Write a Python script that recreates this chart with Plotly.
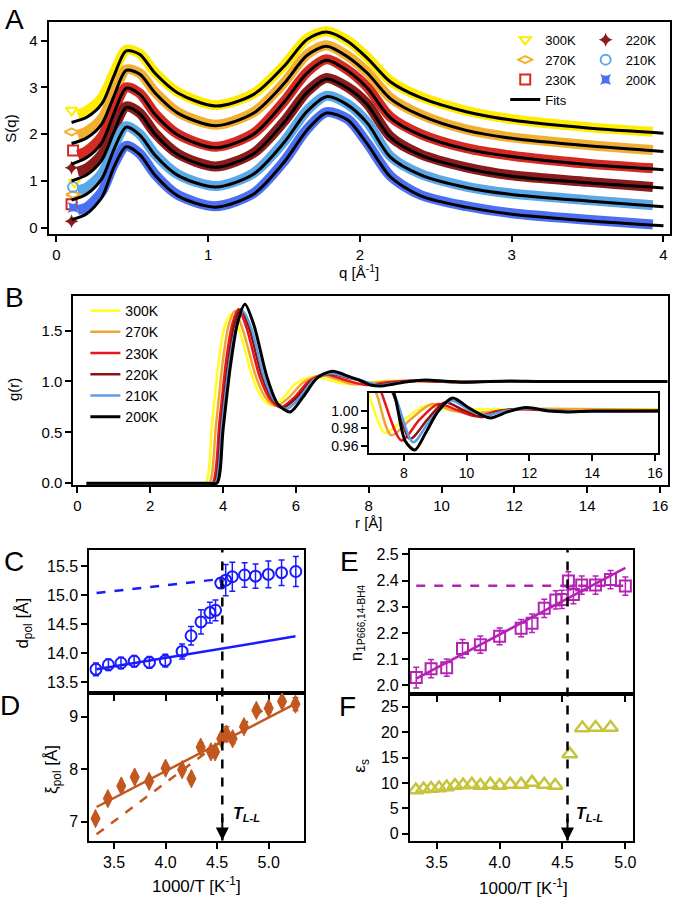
import plotly.graph_objects as go

W, H = 677, 907
FONT = "Liberation Sans, Arial, Helvetica, sans-serif"

# ---------------- Panel A : S(q) ----------------
q_fit = [0.1, 0.2, 0.3, 0.38, 0.46, 0.55, 0.65, 0.8, 1.05, 1.3, 1.5, 1.65, 1.78, 1.92, 2.05, 2.2, 2.4, 2.7, 3.0, 3.5, 4.0]
q_dat = [0.14, 0.2, 0.3, 0.38, 0.46, 0.55, 0.65, 0.8, 1.05, 1.3, 1.5, 1.65, 1.78, 1.92, 2.05, 2.2, 2.4, 2.7, 3.0, 3.5, 3.93]

S_fit_300 = [2.25, 2.36, 2.65, 3.25, 3.78, 3.70, 3.30, 2.88, 2.60, 2.85, 3.45, 4.02, 4.18, 3.98, 3.62, 3.12, 2.78, 2.48, 2.30, 2.13, 2.02]
S_fit_270 = [1.80, 1.92, 2.22, 2.82, 3.36, 3.28, 2.88, 2.45, 2.18, 2.45, 3.08, 3.68, 3.88, 3.65, 3.30, 2.76, 2.40, 2.08, 1.91, 1.75, 1.63]
S_fit_230 = [1.36, 1.50, 1.82, 2.45, 2.98, 2.85, 2.42, 1.98, 1.71, 2.00, 2.68, 3.30, 3.58, 3.35, 2.98, 2.35, 1.98, 1.68, 1.52, 1.35, 1.24]
S_fit_220 = [1.00, 1.13, 1.45, 2.05, 2.57, 2.43, 2.00, 1.56, 1.29, 1.58, 2.25, 2.88, 3.18, 2.98, 2.62, 1.93, 1.55, 1.27, 1.10, 0.96, 0.85]
S_fit_210 = [0.59, 0.72, 1.05, 1.68, 2.15, 1.98, 1.55, 1.12, 0.87, 1.15, 1.82, 2.48, 2.80, 2.62, 2.23, 1.51, 1.13, 0.86, 0.71, 0.57, 0.45]
S_fit_200 = [0.17, 0.30, 0.65, 1.30, 1.73, 1.56, 1.12, 0.68, 0.44, 0.72, 1.40, 2.08, 2.45, 2.30, 1.78, 1.09, 0.68, 0.44, 0.29, 0.15, 0.04]

S_dat_300 = [2.42, 2.50, 2.78, 3.32, 3.80, 3.72, 3.32, 2.90, 2.62, 2.87, 3.47, 4.04, 4.20, 4.00, 3.64, 3.14, 2.80, 2.50, 2.32, 2.15, 2.05]
S_dat_270 = [1.98, 2.06, 2.34, 2.88, 3.38, 3.30, 2.90, 2.47, 2.20, 2.47, 3.10, 3.70, 3.90, 3.67, 3.32, 2.78, 2.42, 2.10, 1.93, 1.77, 1.66]
S_dat_230 = [1.56, 1.64, 1.95, 2.52, 3.00, 2.87, 2.44, 2.00, 1.73, 2.02, 2.70, 3.32, 3.60, 3.37, 3.00, 2.37, 2.00, 1.70, 1.54, 1.37, 1.27]
S_dat_220 = [1.20, 1.27, 1.57, 2.12, 2.59, 2.45, 2.02, 1.58, 1.31, 1.60, 2.27, 2.90, 3.20, 3.00, 2.64, 1.95, 1.57, 1.29, 1.12, 0.98, 0.87]
S_dat_210 = [0.80, 0.86, 1.16, 1.74, 2.17, 2.00, 1.57, 1.14, 0.89, 1.17, 1.84, 2.50, 2.82, 2.64, 2.25, 1.53, 1.15, 0.88, 0.73, 0.59, 0.48]
S_dat_200 = [0.38, 0.44, 0.77, 1.36, 1.75, 1.58, 1.14, 0.70, 0.46, 0.74, 1.42, 2.10, 2.47, 2.32, 1.80, 1.11, 0.70, 0.46, 0.31, 0.17, 0.07]

q_low = {"300K": [0.10, 0.12], "270K": [0.10, 0.11], "230K": [0.11, 0.10],
         "220K": [0.10, 0.10], "210K": [0.11], "200K": [0.11]}
S_low = {"300K": [2.51, 0.97], "270K": [2.05, 0.71], "230K": [1.65, 0.50],
         "220K": [1.28, 0.14], "210K": [0.87], "200K": [0.43]}

labels_A = ["300K", "270K", "230K", "220K", "210K", "200K"]
colors_A = ["#ffec00", "#f2b030", "#d42a22", "#8c1c1c", "#5aa8e8", "#4c70f2"]
symbols_A = ["triangle-down-open", "diamond-wide-open", "square-open", "star-diamond", "circle-open", "star-square"]
S_fit_all = [S_fit_300, S_fit_270, S_fit_230, S_fit_220, S_fit_210, S_fit_200]
S_dat_all = [S_dat_300, S_dat_270, S_dat_230, S_dat_220, S_dat_210, S_dat_200]

# ---------------- Panel B : g(r) ----------------
r_300 = [0.25, 3.3, 3.52, 3.7, 3.9, 4.05, 4.22, 4.45, 4.8, 5.05, 5.3, 5.6, 6.0, 6.5, 6.95, 7.4, 8.0, 8.7, 9.5, 10.5, 16.2]
g_300 = [0.0, 0.0, 0.0, 0.6, 1.25, 1.55, 1.66, 1.5, 1.05, 0.85, 0.77, 0.82, 0.98, 1.05, 1.012, 0.975, 0.99, 1.006, 1.001, 1.002, 1.002]
r_270 = [0.25, 3.4, 3.62, 3.8, 4.0, 4.15, 4.32, 4.55, 4.9, 5.15, 5.45, 5.8, 6.2, 6.7, 7.15, 7.6, 8.2, 8.9, 9.6, 10.4, 11.5, 16.2]
g_270 = [0.0, 0.0, 0.0, 0.55, 1.22, 1.55, 1.69, 1.5, 1.05, 0.85, 0.76, 0.84, 0.99, 1.06, 1.018, 0.972, 0.99, 1.008, 1.0, 0.998, 1.002, 1.001]
r_230 = [0.25, 3.5, 3.71, 3.9, 4.1, 4.25, 4.42, 4.65, 5.0, 5.28, 5.58, 5.95, 6.35, 6.8, 7.3, 7.93, 8.5, 9.1, 9.7, 10.3, 11.0, 11.7, 13.0, 16.2]
g_230 = [0.0, 0.0, 0.0, 0.6, 1.25, 1.56, 1.71, 1.52, 1.05, 0.83, 0.745, 0.84, 1.0, 1.07, 1.02, 0.966, 0.99, 1.008, 1.001, 0.994, 1.0, 1.002, 1.0, 1.0]
r_220 = [0.25, 3.55, 3.76, 3.95, 4.15, 4.3, 4.48, 4.72, 5.07, 5.35, 5.65, 6.02, 6.42, 6.88, 7.4, 7.75, 8.2, 8.75, 9.3, 9.9, 10.45, 11.1, 11.8, 13.0, 16.2]
g_220 = [0.0, 0.0, 0.0, 0.6, 1.22, 1.55, 1.71, 1.52, 1.05, 0.83, 0.745, 0.84, 1.0, 1.075, 1.04, 1.012, 0.968, 0.99, 1.01, 1.001, 0.993, 1.0, 1.003, 1.0, 1.0]
r_210 = [0.25, 3.6, 3.79, 3.98, 4.18, 4.35, 4.54, 4.78, 5.12, 5.42, 5.75, 6.1, 6.5, 6.95, 7.45, 7.78, 8.3, 8.85, 9.5, 10.05, 10.6, 11.2, 11.9, 13.0, 16.2]
g_210 = [0.0, 0.0, 0.0, 0.6, 1.2, 1.52, 1.69, 1.52, 1.05, 0.81, 0.73, 0.84, 1.02, 1.08, 1.04, 1.012, 0.964, 0.99, 1.012, 1.002, 0.995, 1.0, 1.003, 1.0, 1.0]
r_200 = [0.25, 3.6, 3.83, 4.0, 4.2, 4.4, 4.6, 4.85, 5.2, 5.5, 5.84, 6.2, 6.6, 7.0, 7.45, 7.75, 8.05, 8.35, 8.7, 9.1, 9.55, 10.1, 10.75, 11.3, 11.9, 12.6, 13.2, 14.0, 16.2]
g_200 = [0.0, 0.0, 0.0, 0.53, 1.15, 1.58, 1.76, 1.55, 1.05, 0.78, 0.70, 0.85, 1.04, 1.10, 1.05, 1.012, 0.965, 0.955, 0.975, 1.0, 1.015, 1.003, 0.992, 0.999, 1.004, 1.0, 0.999, 1.0, 1.0]

labels_B = ["300K", "270K", "230K", "220K", "210K", "200K"]
colors_B = ["#ffff22", "#f0a431", "#e8161a", "#8e1212", "#5c9ee6", "#000000"]
r_all = [r_300, r_270, r_230, r_220, r_210, r_200]
g_all = [g_300, g_270, g_230, g_220, g_210, g_200]

# ---------------- Panel C : d_pol ----------------
x_C = [3.324, 3.445, 3.567, 3.695, 3.843, 3.997, 4.160, 4.247, 4.343, 4.430, 4.484, 4.535, 4.583, 4.647, 4.766, 4.872, 4.997, 5.125, 5.263]
d_pol = [13.72, 13.80, 13.83, 13.86, 13.84, 13.87, 14.03, 14.30, 14.54, 14.70, 14.74, 15.21, 15.26, 15.32, 15.35, 15.33, 15.36, 15.39, 15.41]
d_err = [0.11, 0.10, 0.10, 0.10, 0.10, 0.11, 0.13, 0.16, 0.21, 0.18, 0.18, 0.08, 0.27, 0.25, 0.21, 0.21, 0.23, 0.22, 0.26]
C_fit_x = [3.33, 5.26]
C_fit_y = [13.72, 14.29]
C_dash_x = [3.33, 4.53]
C_dash_y = [15.04, 15.28]

# ---------------- Panel D : xi_pol ----------------
x_D = [3.32, 3.44, 3.57, 3.70, 3.84, 4.00, 4.16, 4.25, 4.34, 4.44, 4.48, 4.54, 4.59, 4.65, 4.76, 4.88, 5.00, 5.13, 5.26]
xi_pol = [7.06, 7.44, 7.68, 7.85, 7.77, 8.02, 7.99, 7.82, 8.42, 8.33, 8.33, 8.58, 8.67, 8.58, 8.81, 9.12, 9.16, 9.29, 9.24]
xi_err = [0.05, 0.05, 0.05, 0.05, 0.05, 0.05, 0.05, 0.05, 0.08, 0.06, 0.06, 0.08, 0.14, 0.08, 0.08, 0.07, 0.08, 0.05, 0.12]
D_fit_x = [3.33, 5.26]
D_fit_y = [7.28, 9.25]
D_dash_x = [3.33, 5.0]
D_dash_y = [6.76, 9.21]

# ---------------- Panel E : n1 ----------------
x_E = [3.337, 3.455, 3.579, 3.705, 3.847, 4.000, 4.171, 4.258, 4.355, 4.447, 4.495, 4.547, 4.587, 4.653, 4.763, 4.882, 5.000]
n1 = [2.029, 2.063, 2.067, 2.140, 2.155, 2.187, 2.218, 2.237, 2.294, 2.326, 2.328, 2.399, 2.347, 2.383, 2.383, 2.404, 2.379]
n1_err = [0.04, 0.035, 0.033, 0.035, 0.033, 0.032, 0.033, 0.035, 0.035, 0.035, 0.035, 0.035, 0.035, 0.035, 0.035, 0.035, 0.035]
E_fit_x = [3.337, 5.0]
E_fit_y = [2.025, 2.449]
E_dash_x = [3.337, 5.0]
E_dash_y = [2.38, 2.38]

# ---------------- Panel F : eps_s ----------------
x_F = [3.334, 3.395, 3.455, 3.518, 3.579, 3.645, 3.710, 3.779, 3.847, 3.926, 4.000, 4.084, 4.171, 4.258, 4.355, 4.442, 4.558, 4.658, 4.763, 4.882]
eps_s = [8.6, 8.8, 8.9, 9.0, 9.2, 9.5, 9.6, 9.7, 9.5, 9.7, 9.5, 9.7, 9.7, 10.1, 9.7, 9.5, 15.7, 20.8, 20.9, 20.9]

T_LL = [4.55, 4.54]

# ---------------- colours ----------------
C_BLUE = "#1a1aff"
C_BROWN = "#c2581f"
C_MAG = "#b423b4"
C_OLIVE = "#c6c43a"


def dx(a, b):
    return [a / W, b / W]


def dy(top, bottom):
    return [1 - bottom / H, 1 - top / H]


fig = go.Figure()

# Panel A traces
for i, lab in enumerate(labels_A):
    fig.add_trace(go.Scatter(x=q_dat, y=S_dat_all[i], mode="lines",
                             line=dict(color=colors_A[i], width=10, shape="spline", smoothing=0.8),
                             showlegend=False, xaxis="x", yaxis="y", hoverinfo="skip"))
for i, lab in enumerate(labels_A):
    filled = "open" not in symbols_A[i]
    fig.add_trace(go.Scatter(x=q_low[lab], y=S_low[lab], mode="markers", name=lab,
                             marker=dict(symbol=symbols_A[i], size=10, color=colors_A[i],
                                         line=dict(color=colors_A[i], width=2 if not filled else 0)),
                             legend="legend" if i < 3 else "legend2",
                             xaxis="x", yaxis="y"))
for i, lab in enumerate(labels_A):
    fig.add_trace(go.Scatter(x=q_fit, y=S_fit_all[i], mode="lines", name="Fits",
                             line=dict(color="black", width=3, shape="spline", smoothing=0.8),
                             showlegend=(i == 0), legend="legend", legendrank=2000,
                             xaxis="x", yaxis="y"))

# Panel B traces (main + inset)
for i, lab in enumerate(labels_B):
    w = 3 if lab == "200K" else 2.5
    fig.add_trace(go.Scatter(x=r_all[i], y=g_all[i], mode="lines", name=lab,
                             line=dict(color=colors_B[i], width=w, shape="spline", smoothing=0.8),
                             legend="legend3", xaxis="x2", yaxis="y2"))
for i, lab in enumerate(labels_B):
    w = 3 if lab == "200K" else 2.5
    fig.add_trace(go.Scatter(x=r_all[i], y=g_all[i], mode="lines", showlegend=False,
                             line=dict(color=colors_B[i], width=w, shape="spline", smoothing=0.8),
                             xaxis="x3", yaxis="y3"))

# Panel C
fig.add_trace(go.Scatter(x=C_fit_x, y=C_fit_y, mode="lines", line=dict(color=C_BLUE, width=2.5),
                         showlegend=False, xaxis="x4", yaxis="y4"))
fig.add_trace(go.Scatter(x=C_dash_x, y=C_dash_y, mode="lines", line=dict(color=C_BLUE, width=2.5, dash="dash"),
                         showlegend=False, xaxis="x4", yaxis="y4"))
fig.add_trace(go.Scatter(x=x_C, y=d_pol, mode="markers",
                         marker=dict(symbol="circle-open", size=11, color=C_BLUE, line=dict(width=2, color=C_BLUE)),
                         error_y=dict(type="data", array=d_err, color=C_BLUE, thickness=1.5, width=3),
                         showlegend=False, xaxis="x4", yaxis="y4"))

# Panel D
fig.add_trace(go.Scatter(x=D_fit_x, y=D_fit_y, mode="lines", line=dict(color=C_BROWN, width=2.5),
                         showlegend=False, xaxis="x5", yaxis="y5"))
fig.add_trace(go.Scatter(x=D_dash_x, y=D_dash_y, mode="lines", line=dict(color=C_BROWN, width=2.5, dash="dash"),
                         showlegend=False, xaxis="x5", yaxis="y5"))
fig.add_trace(go.Scatter(x=x_D, y=xi_pol, mode="markers",
                         marker=dict(symbol="diamond-tall", size=13, color=C_BROWN, line=dict(width=1, color=C_BROWN)),
                         error_y=dict(type="data", array=xi_err, color=C_BROWN, thickness=1.5, width=3),
                         showlegend=False, xaxis="x5", yaxis="y5"))

# Panel E
fig.add_trace(go.Scatter(x=E_dash_x, y=E_dash_y, mode="lines", line=dict(color=C_MAG, width=2.5, dash="dash"),
                         showlegend=False, xaxis="x6", yaxis="y6"))
fig.add_trace(go.Scatter(x=E_fit_x, y=E_fit_y, mode="lines", line=dict(color=C_MAG, width=2.5),
                         showlegend=False, xaxis="x6", yaxis="y6"))
fig.add_trace(go.Scatter(x=x_E, y=n1, mode="markers",
                         marker=dict(symbol="square-open", size=11, color=C_MAG, line=dict(width=2, color=C_MAG)),
                         error_y=dict(type="data", array=n1_err, color=C_MAG, thickness=1.5, width=3),
                         showlegend=False, xaxis="x6", yaxis="y6"))

# Panel F
fig.add_trace(go.Scatter(x=x_F, y=eps_s, mode="markers",
                         marker=dict(symbol="triangle-up-open", size=13, color=C_OLIVE, line=dict(width=2.5, color=C_OLIVE)),
                         showlegend=False, xaxis="x7", yaxis="y7"))

# ---------------- axes ----------------
def ax(domain, rng, anchor, tickvals=None, ticktext=None, size=14, labels=True, fmt=None):
    d = dict(domain=domain, range=rng, anchor=anchor, showline=True, linecolor="black", linewidth=2,
             mirror=True, ticks="outside", ticklen=6, tickwidth=2, tickcolor="black",
             showgrid=False, zeroline=False, tickfont=dict(size=size, family=FONT, color="black"),
             showticklabels=labels)
    if tickvals is not None:
        d["tickvals"] = tickvals
    if ticktext is not None:
        d["ticktext"] = ticktext
    if fmt:
        d["tickformat"] = fmt
    return d


layout_axes = dict(
    xaxis=ax(dx(49, 675), [-0.051, 4.043], "y", [0, 1, 2, 3, 4], size=15),
    yaxis=ax(dy(19, 233), [-0.127, 4.40], "x", [0, 1, 2, 3, 4], size=15),
    xaxis2=ax(dx(74, 673), [-0.11, 16.22], "y2", [0, 2, 4, 6, 8, 10, 12, 14, 16], size=15),
    yaxis2=ax(dy(296, 487), [-0.02, 1.84], "x2", [0.0, 0.5, 1.0, 1.5], size=15, fmt=".1f"),
    xaxis3=ax(dx(372, 663), [6.9, 16.1], "y3", [8, 10, 12, 14, 16], size=14),
    yaxis3=ax(dy(394, 455), [0.951, 1.0207], "x3", [0.96, 0.98, 1.00], size=14, fmt=".2f"),
    xaxis4=ax(dx(90, 306), [3.26, 5.34], "y4", [3.5, 4.0, 4.5, 5.0], size=16, labels=False),
    yaxis4=ax(dy(552, 697), [13.31, 15.79], "x4", [13.5, 14.0, 14.5, 15.0, 15.5], size=16, fmt=".1f"),
    xaxis5=ax(dx(90, 306), [3.26, 5.34], "y5", [3.5, 4.0, 4.5, 5.0], size=16, fmt=".1f"),
    yaxis5=ax(dy(697, 846), [6.64, 9.45], "x5", [7, 8, 9], size=16),
    xaxis6=ax(dx(413, 638), [3.287, 5.063], "y6", [3.5, 4.0, 4.5, 5.0], size=16, labels=False),
    yaxis6=ax(dy(552, 698), [1.966, 2.519], "x6", [2.0, 2.1, 2.2, 2.3, 2.4, 2.5], size=16, fmt=".1f"),
    xaxis7=ax(dx(413, 638), [3.287, 5.063], "y7", [3.5, 4.0, 4.5, 5.0], size=16, fmt=".1f"),
    yaxis7=ax(dy(698, 846), [-1.37, 27.5], "x7", [0, 5, 10, 15, 20, 25], size=16),
)


def ann(text, xp, yp, size=15, angle=0, **kw):
    d = dict(text=text, x=xp / W, y=1 - yp / H, xref="paper", yref="paper", showarrow=False,
             font=dict(size=size, family=FONT, color="black"), textangle=angle,
             xanchor="center", yanchor="middle")
    d.update(kw)
    return d


annotations = [
    ann("A", 15, 17, size=28), ann("B", 15, 297, size=28), ann("C", 14, 564, size=28),
    ann("D", 10, 710, size=28), ann("E", 352, 564, size=28), ann("F", 350, 711, size=28),
    ann("S(q)", 11, 127, size=15, angle=-90),
    ann("q [Å<sup>-1</sup>]", 362, 271, size=15),
    ann("g(r)", 13, 390, size=15, angle=-90),
    ann("r [Å]", 372, 525, size=15),
    ann("d<sub>pol</sub> [Å]", 24, 626, size=17, angle=-90),
    ann("ξ<sub>pol</sub> [Å]", 54, 774, size=17, angle=-90),
    ann("1000/T [K<sup>-1</sup>]", 198, 891, size=17),
    ann("n<sub>1<span style='font-size:10px'>P666,14-BH4</span></sub>", 360, 626, size=17, angle=-90),
    ann("ε<sub>s</sub>", 364, 770, size=17, angle=-90),
    ann("1000/T [K<sup>-1</sup>]", 527, 893, size=17),
    ann("<b><i>T<sub>L-L</sub></i></b>", 248, 820, size=16),
    ann("<b><i>T<sub>L-L</sub></i></b>", 594, 820, size=16),
    # arrow heads at the bottom of the dashed transition lines
    dict(x=T_LL[0], y=0, xref="x5", yref="y5 domain", ax=0, ay=-24, axref="pixel", ayref="pixel",
         showarrow=True, arrowhead=2, arrowsize=1.3, arrowwidth=2, arrowcolor="black", text=""),
    dict(x=T_LL[1], y=0, xref="x7", yref="y7 domain", ax=0, ay=-24, axref="pixel", ayref="pixel",
         showarrow=True, arrowhead=2, arrowsize=1.3, arrowwidth=2, arrowcolor="black", text=""),
]

shapes = [
    dict(type="line", xref="x5", yref="paper", x0=T_LL[0], x1=T_LL[0], y0=1 - 846 / H, y1=1 - 552 / H,
         line=dict(color="black", width=2.5, dash="dash")),
    dict(type="line", xref="x7", yref="paper", x0=T_LL[1], x1=T_LL[1], y0=1 - 846 / H, y1=1 - 552 / H,
         line=dict(color="black", width=2.5, dash="dash")),
]

leg_common = dict(bgcolor="rgba(0,0,0,0)", borderwidth=0, xanchor="left", yanchor="top",
                  itemwidth=30, tracegroupgap=0)

fig.update_layout(
    width=W, height=H, margin=dict(l=0, r=0, t=0, b=0),
    paper_bgcolor="white", plot_bgcolor="white",
    font=dict(family=FONT, color="black"),
    annotations=annotations, shapes=shapes,
    legend=dict(x=509 / W, y=1 - 22 / H, font=dict(size=13, family=FONT), **leg_common),
    legend2=dict(x=590 / W, y=1 - 22 / H, font=dict(size=13, family=FONT), **leg_common),
    legend3=dict(x=86 / W, y=1 - 295 / H, font=dict(size=14, family=FONT), **leg_common),
    **layout_axes,
)

fig.write_html("out.html", config={"displayModeBar": False},
               post_script="document.body.style.margin='0';document.body.style.overflow='hidden';")
